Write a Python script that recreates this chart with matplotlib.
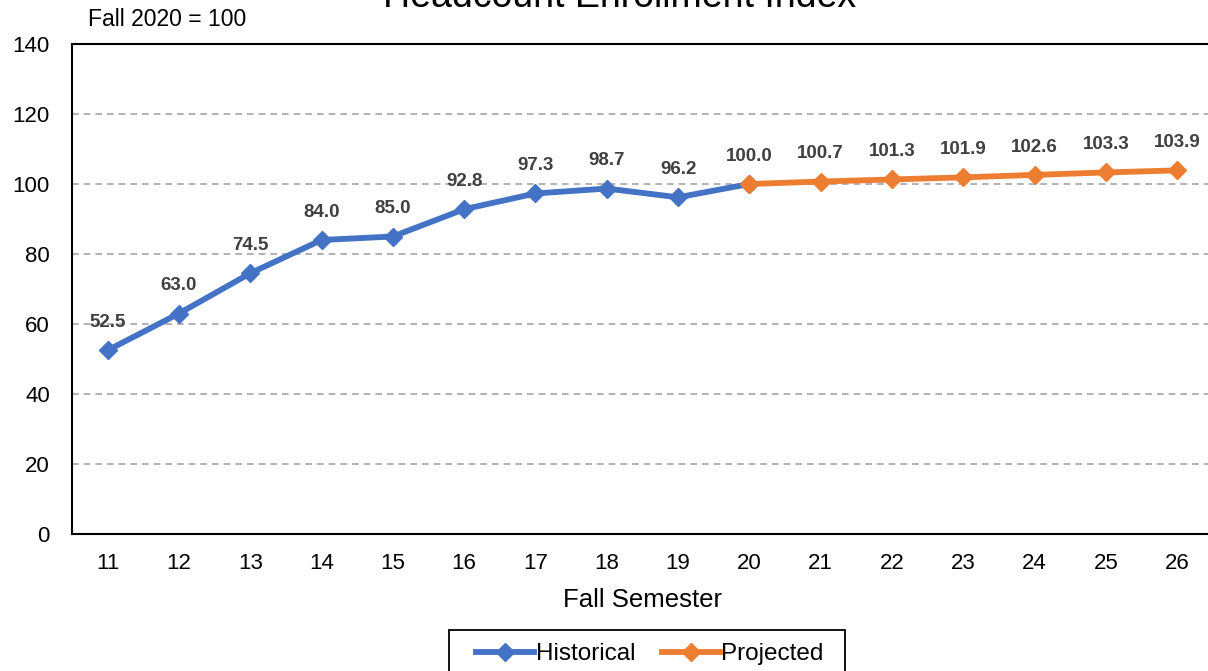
import matplotlib.pyplot as plt
from matplotlib.patches import Rectangle

plt.rcParams['font.family'] = ['Liberation Sans', 'DejaVu Sans']

# data
hist_years = [11, 12, 13, 14, 15, 16, 17, 18, 19, 20]
hist_vals = [52.5, 63.0, 74.5, 84.0, 85.0, 92.8, 97.3, 98.7, 96.2, 100.0]
proj_years = [20, 21, 22, 23, 24, 25, 26]
proj_vals = [100.0, 100.7, 101.3, 101.9, 102.6, 103.3, 103.9]

all_years = list(range(11, 27))

BLUE = '#4472C4'
ORANGE = '#ED7D31'
W, H = 1208, 671

fig = plt.figure(figsize=(W / 100, H / 100), dpi=100)
ax = fig.add_axes([72 / W, 1 - 534 / H, 1 - 72 / W + 0.004, (534 - 44) / H])

ax.plot(hist_years, hist_vals, color=BLUE, lw=4.2, marker='D', ms=9.5, label='Historical', zorder=3)
ax.plot(proj_years, proj_vals, color=ORANGE, lw=4.2, marker='D', ms=9.5, label='Projected', zorder=4)

# data labels
labels = dict(zip(hist_years, hist_vals))
labels.update(dict(zip(proj_years, proj_vals)))
for yr in all_years:
    v = labels[yr]
    ax.annotate(f'{v:.1f}', (yr, v), xytext=(0, 20), textcoords='offset points',
                ha='center', va='center', fontsize=13.5, fontweight='bold', color='#404040')

ax.set_xlim(10.5, 26.5)
ax.set_ylim(0, 140)
ax.set_xticks(all_years)
ax.set_yticks(range(0, 141, 20))
ax.tick_params(length=0, labelsize=16)
ax.tick_params(axis='x', pad=14)
ax.tick_params(axis='y', pad=16)
for y in range(20, 140, 20):
    ax.axhline(y, color='#A6A6A6', lw=1.2, ls=(0, (4, 3)), zorder=1)
for s in ax.spines.values():
    s.set_color('black')
    s.set_linewidth(1.5)

ax.set_xlabel('Fall Semester', fontsize=18.5, labelpad=10)

fig.text(0.513, 1 - 7 / H, 'Headcount Enrollment Index', ha='center', va='baseline', fontsize=27)
fig.text(88 / W, 1 - 20 / H, 'Fall 2020 = 100', ha='left', va='center', fontsize=16.5)

leg = fig.legend(loc='center', bbox_to_anchor=(650 / W, 1 - 654 / H), ncol=2,
                 fontsize=17.5, frameon=False, handlelength=2.4, columnspacing=1.1,
                 handletextpad=0.05, borderpad=0)
fig.patches.append(Rectangle((449 / W, 1 - 690 / H), (845 - 449) / W, 60 / H,
                             transform=fig.transFigure, fill=False, edgecolor='black', lw=1.3))

fig.savefig('out.png', dpi=100)
